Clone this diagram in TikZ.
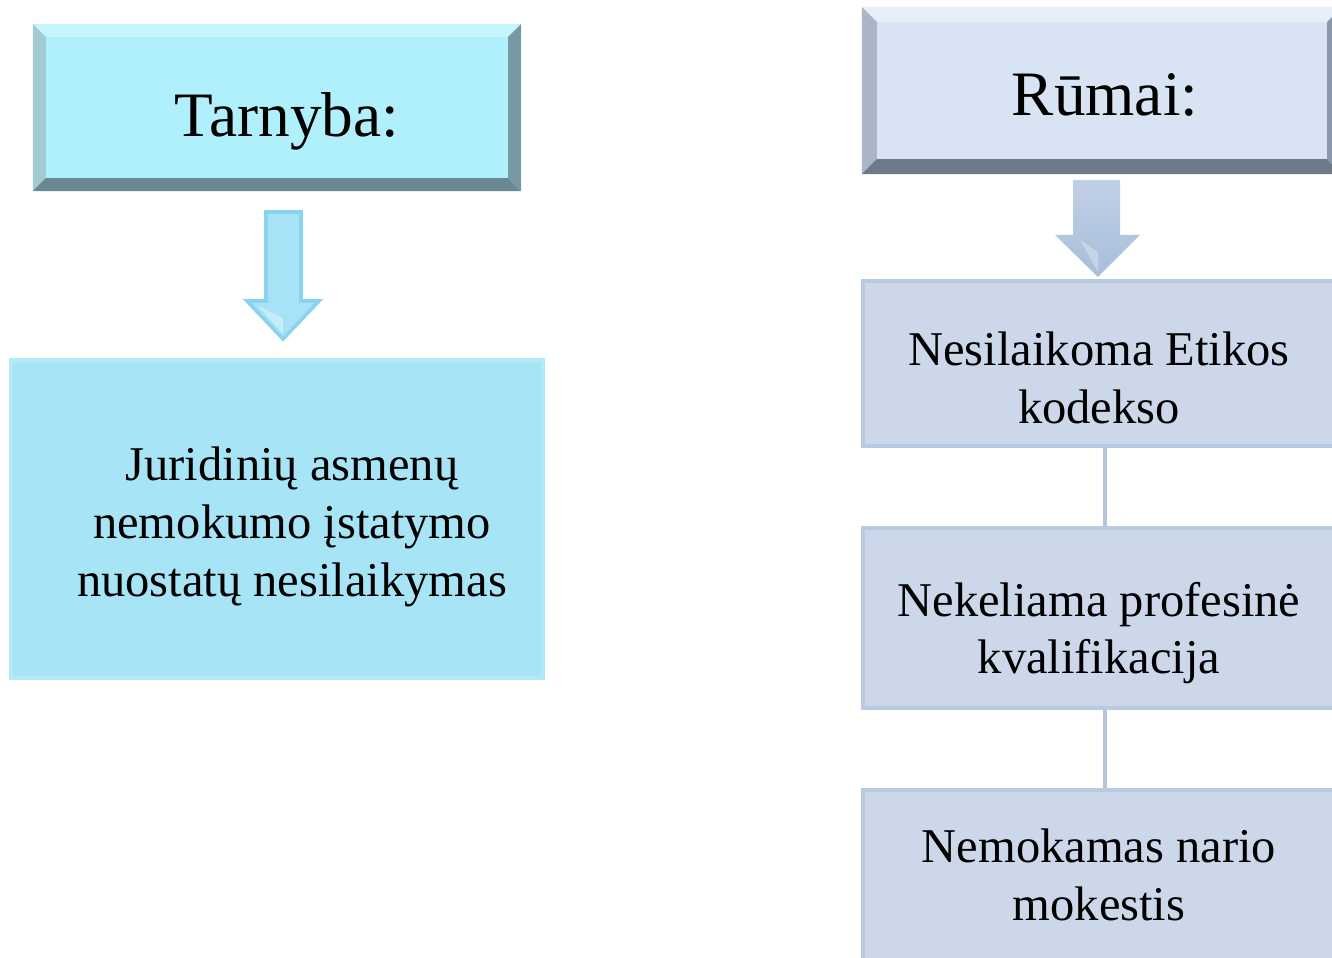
\documentclass[tikz,border=0pt]{standalone}
\usepackage{fontspec}
\setmainfont{Liberation Serif}
\definecolor{tarnface}{HTML}{B0F0FC}
\definecolor{tarntop}{HTML}{C6F5FD}
\definecolor{tarnleft}{HTML}{A4CAD2}
\definecolor{tarnbot}{HTML}{6A8891}
\definecolor{tarnright}{HTML}{7898A4}
\definecolor{jurface}{HTML}{A6E4F6}
\definecolor{jurborder}{HTML}{B2EAF8}
\definecolor{larrow}{HTML}{A8E2F6}
\definecolor{larrowline}{HTML}{88D4EE}
\definecolor{rumface}{HTML}{D8E4F4}
\definecolor{rumtop}{HTML}{E6EEF8}
\definecolor{rumleft}{HTML}{AAB6C8}
\definecolor{rumbot}{HTML}{6E7A8A}
\definecolor{rumright}{HTML}{8A98AC}
\definecolor{rboxface}{HTML}{CCD8EA}
\definecolor{rboxborder}{HTML}{B8CAE2}
\definecolor{rline}{HTML}{B4C6DE}
\definecolor{rarrowtop}{HTML}{C0D0E6}
\definecolor{rarrowbot}{HTML}{A8BEDA}
\tikzset{
  bevelbox/.style n args={6}{draw=none, fill=#1, inner sep=0pt, path picture={
    \fill[#2] (path picture bounding box.north west) -- (path picture bounding box.north east)
       -- ([xshift=-#6,yshift=-#6]path picture bounding box.north east)
       -- ([xshift=#6,yshift=-#6]path picture bounding box.north west) -- cycle;
    \fill[#3] (path picture bounding box.north west) -- (path picture bounding box.south west)
       -- ([xshift=#6,yshift=#6]path picture bounding box.south west)
       -- ([xshift=#6,yshift=-#6]path picture bounding box.north west) -- cycle;
    \fill[#4] (path picture bounding box.south west) -- (path picture bounding box.south east)
       -- ([xshift=-#6,yshift=#6]path picture bounding box.south east)
       -- ([xshift=#6,yshift=#6]path picture bounding box.south west) -- cycle;
    \fill[#5] (path picture bounding box.north east) -- (path picture bounding box.south east)
       -- ([xshift=-#6,yshift=#6]path picture bounding box.south east)
       -- ([xshift=-#6,yshift=-#6]path picture bounding box.north east) -- cycle;
  }},
  flatbox/.style n args={2}{fill=#1, draw=#2, line width=1.3pt, inner sep=0pt},
  bigtext/.style={font=\fontsize{18}{20}\selectfont, anchor=base, inner sep=0pt},
  boxtext/.style={font=\fontsize{13.8}{16.4}\selectfont, align=center, inner sep=0pt},
  conn/.style={draw=rline, line width=0.9pt},
}
\begin{document}
\begin{tikzpicture}[x=0.01cm,y=-0.01cm]
\useasboundingbox (0,0) rectangle (1332,958);
\clip (0,0) rectangle (1332,958);
\fill[white] (0,0) rectangle (1332,958);

% left column
\node[bevelbox={tarnface}{tarntop}{tarnleft}{tarnbot}{tarnright}{0.13cm},
      minimum width=4.88cm, minimum height=1.67cm] (tarnybaBox) at (277,107.5) {};
\node[bigtext] (tarnyba) at (287,137) {Tarnyba:};

\node[flatbox={jurface}{jurborder}, minimum width=5.32cm, minimum height=3.18cm] (jurBox) at (277,519) {};
\node[boxtext] (jur) at (292,527) {Juridinių asmenų\\nemokumo įstatymo\\nuostatų nesilaikymas};

\path[fill=larrow, draw=larrowline, line width=1pt, line join=miter]
  (266,212) -- (301,212) -- (301,301) -- (319,301) -- (283,339) -- (247,301) -- (266,301) -- cycle;
\fill[white, opacity=0.35] (258,306) -- (283,334) -- (283,318) -- cycle;

% right column
\node[bevelbox={rumface}{rumtop}{rumleft}{rumbot}{rumright}{0.15cm},
      minimum width=4.80cm, minimum height=1.67cm] (rumaiBox) at (1102,90.5) {};
\node[bigtext] (rumai) at (1105,116) {Rūmai:};

\path[top color=rarrowtop, bottom color=rarrowbot]
  (1073,180) -- (1120,180) -- (1120,235) -- (1140,235) -- (1098,277) -- (1055,235) -- (1073,235) -- cycle;
\fill[white, opacity=0.3] (1080,240) -- (1098,272) -- (1098,252) -- cycle;

\node[flatbox={rboxface}{rboxborder}, minimum width=4.72cm, minimum height=1.65cm] (box1) at (1099,363.5) {};
\node[flatbox={rboxface}{rboxborder}, minimum width=4.72cm, minimum height=1.80cm] (box2) at (1099,618) {};
\node[flatbox={rboxface}{rboxborder}, minimum width=4.72cm, minimum height=1.80cm] (box3) at (1099,880) {};

\node[boxtext] (t1) at (1099,378) {Nesilaikoma Etikos\\kodekso};
\node[boxtext] (t2) at (1099,633) {Nekeliama profesinė\\kvalifikacija};
\node[boxtext] (t3) at (1099,875) {Nemokamas nario\\mokestis};

\coordinate (lx) at (1105,0);
\draw[conn] (box1.south -| lx) -- (box2.north -| lx);
\draw[conn] (box2.south -| lx) -- (box3.north -| lx);
\end{tikzpicture}
\end{document}
